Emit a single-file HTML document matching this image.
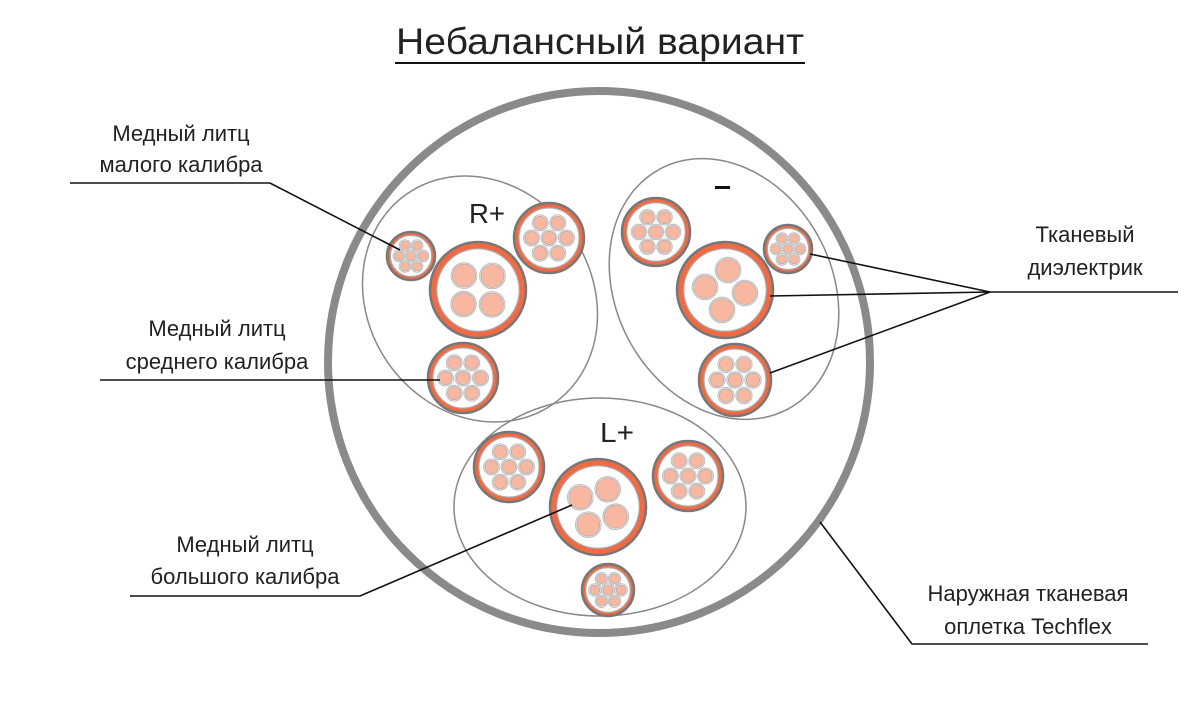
<!DOCTYPE html>
<html><head><meta charset="utf-8"><style>
html,body{margin:0;padding:0;background:#fff;width:1200px;height:726px;overflow:hidden}
text{font-family:"Liberation Sans","DejaVu Sans",sans-serif;fill:#222}
</style></head><body>
<svg id="s" width="1200" height="726" viewBox="0 0 1200 726" xmlns="http://www.w3.org/2000/svg">
<text x="600" y="54" font-size="37" text-anchor="middle" textLength="408" lengthAdjust="spacingAndGlyphs">Небалансный вариант</text>
<line x1="395" y1="63" x2="805" y2="63" stroke="#111" stroke-width="2"/>
<circle cx="599" cy="362" r="271" fill="none" stroke="#8a8a8a" stroke-width="8"/>
<ellipse cx="480" cy="299" rx="112" ry="128" transform="rotate(-35 480 299)" fill="none" stroke="#888" stroke-width="1.5"/>
<ellipse cx="724" cy="289" rx="108" ry="136" transform="rotate(-28 724 289)" fill="none" stroke="#888" stroke-width="1.5"/>
<ellipse cx="600" cy="507" rx="146" ry="109" fill="none" stroke="#888" stroke-width="1.5"/>
<text x="487" y="223" font-size="28" text-anchor="middle" textLength="36" lengthAdjust="spacingAndGlyphs">R+</text>
<rect x="715" y="186" width="15" height="3" fill="#111"/>
<text x="617" y="442" font-size="28" text-anchor="middle" textLength="34" lengthAdjust="spacingAndGlyphs">L+</text>
<g id="c"></g>
<g stroke="#111" stroke-width="1.6" fill="none">
<polyline points="70,183 270,183 400,250"/>
<polyline points="100,380 440,380"/>
<polyline points="130,596 360,596 572,505"/>
<line x1="990" y1="292" x2="1178" y2="292"/>
<line x1="990" y1="292" x2="810" y2="254"/>
<line x1="990" y1="292" x2="770" y2="296"/>
<line x1="990" y1="292" x2="770" y2="373"/>
<polyline points="1148,644 912,644 820,522"/>
</g>
<g font-size="22" text-anchor="middle">
<text x="181" y="141">Медный литц</text><text x="181" y="172">малого калибра</text>
<text x="217" y="336">Медный литц</text><text x="217" y="369">среднего калибра</text>
<text x="245" y="552">Медный литц</text><text x="245" y="584">большого калибра</text>
<text x="1085" y="242">Тканевый</text><text x="1085" y="275">диэлектрик</text>
<text x="1028" y="601">Наружная тканевая</text><text x="1028" y="634">оплетка Techflex</text>
</g>
</svg>
<script>
var g=document.getElementById('c'),NS='http://www.w3.org/2000/svg';
function C(x,y,r,f,s,w){var e=document.createElementNS(NS,'circle');e.setAttribute('cx',x);e.setAttribute('cy',y);e.setAttribute('r',r);e.setAttribute('fill',f);if(s){e.setAttribute('stroke',s);e.setAttribute('stroke-width',w)}g.appendChild(e)}
function wire(x,y,r){C(x,y,r+1.3,'#fff','#bbb',1);C(x,y,r,'#f8b7a0','#aaa',0.7)}
function cab(x,y,R,type,rot){
 C(x,y,R,'#f26a43','#777',2.5);
 C(x,y,R*0.86,'#fff','#aaa',1.2);
 rot=rot||0;
 if(type==4){var d=R*0.42,r=R*0.24;for(var i=0;i<4;i++){var a=rot+i*Math.PI/2;wire(x+d*Math.cos(a),y+d*Math.sin(a),r)}}
 else{var d=R*0.5,r=R*0.19;wire(x,y,r);for(var i=0;i<6;i++){var a=rot+i*Math.PI/3;wire(x+d*Math.cos(a),y+d*Math.sin(a),r)}}
}
cab(411,256,24,7);cab(478,290,48,4,0.8);cab(549,238,35,7);cab(463,378,35,7);
cab(656,232,34,7);cab(725,290,48,4,0.15);cab(788,249,24,7);cab(735,380,36,7);
cab(509,467,35,7);cab(598,507,48,4,0.5);cab(688,476,35,7);cab(608,590,26,7);
</script>
</body></html>
